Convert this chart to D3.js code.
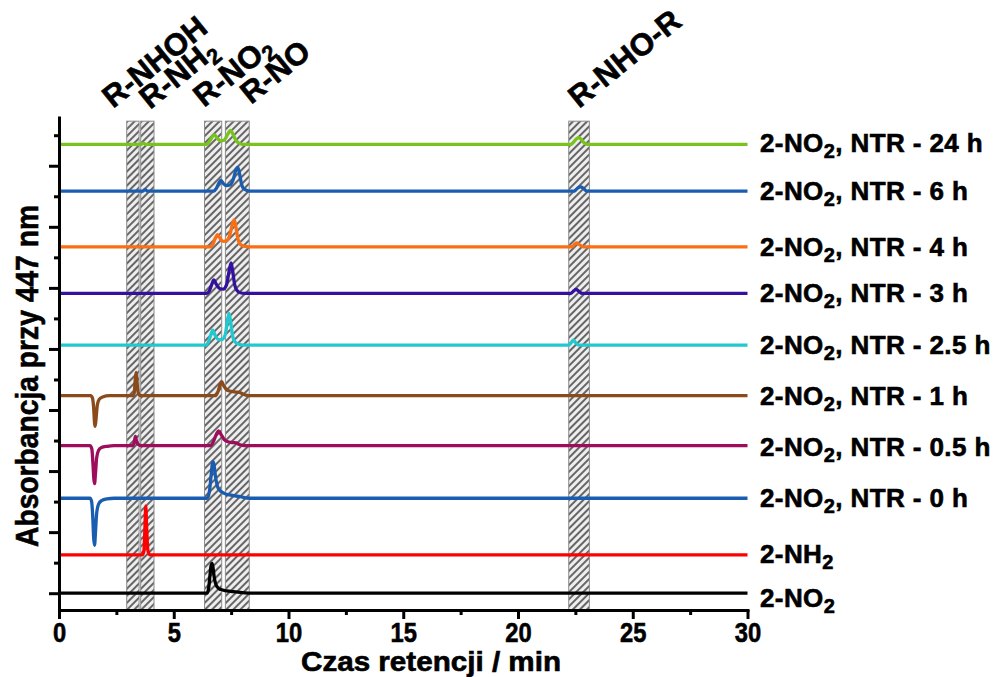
<!DOCTYPE html>
<html><head><meta charset="utf-8">
<script src="https://cdn.jsdelivr.net/npm/d3@7"></script>
<style>
body{margin:0;background:#fff}
text{font-family:"Liberation Sans",Arial,sans-serif;font-weight:bold;fill:#000;stroke:#000;stroke-width:0.6px}
</style>
</head><body>
<svg id="chart" width="994" height="677"></svg>
<script>
// ---------------- DATA ----------------
// series, bottom to top
const seriesLabels = [
  ["2-NO","2",""],
  ["2-NH","2",""],
  ["2-NO","2",", NTR - 0 h"],
  ["2-NO","2",", NTR - 0.5 h"],
  ["2-NO","2",", NTR - 1 h"],
  ["2-NO","2",", NTR - 2.5 h"],
  ["2-NO","2",", NTR - 3 h"],
  ["2-NO","2",", NTR - 4 h"],
  ["2-NO","2",", NTR - 6 h"],
  ["2-NO","2",", NTR - 24 h"]
];
const seriesColors = ["#000000","#ff0000","#1a5db0","#9e0c5c","#8a4a1a","#22c8d0","#34109f","#fb6e12","#1a5db0","#78c31e"];
// vertical offset of each trace (absorbance, arbitrary units)
const seriesOffsets = [0, 0.627, 1.555, 2.416, 3.234, 4.064, 4.91, 5.673, 6.584, 7.349];

// [retention time (min), signal relative to baseline]
const s_2NO2 = [[0,0],[6.45,0],[6.52,0.08],[6.58,0.3],[6.63,0.46],[6.67,0.49],[6.71,0.42],[6.76,0.27],[6.82,0.16],[6.9,0.1],[7.05,0.06],[7.3,0.04],[7.6,0.025],[8.0,0.01],[8.4,0],[30,0]];
const s_2NH2 = [[0,0],[3.62,0],[3.7,0.06],[3.74,0.4],[3.78,0.8],[3.82,0.45],[3.87,0.08],[3.95,0],[30,0]];
const s_0h = [[0,0],[1.35,0],[1.42,-0.05],[1.47,-0.3],[1.51,-0.65],[1.55,-0.77],[1.59,-0.55],[1.64,-0.25],[1.72,-0.1],[1.85,-0.04],[2.1,-0.01],[2.4,0],[6.45,0],[6.55,0.1],[6.63,0.38],[6.7,0.6],[6.75,0.56],[6.82,0.35],[6.9,0.2],[7.0,0.13],[7.2,0.08],[7.5,0.05],[7.9,0.025],[8.3,0],[30,0]];
const s_05h = [[0,0],[1.35,0],[1.43,-0.05],[1.48,-0.3],[1.52,-0.55],[1.55,-0.62],[1.59,-0.45],[1.64,-0.2],[1.72,-0.08],[1.85,-0.03],[2.1,-0.01],[2.4,0],[3.22,0],[3.28,0.06],[3.33,0.15],[3.38,0.07],[3.45,0.02],[3.6,0],[6.6,0],[6.72,0.06],[6.85,0.18],[6.95,0.24],[7.05,0.19],[7.2,0.1],[7.4,0.06],[7.6,0.05],[7.72,0.045],[7.85,0.02],[8.1,0],[30,0]];
const s_1h = [[0,0],[1.38,0],[1.46,-0.04],[1.51,-0.2],[1.55,-0.45],[1.58,-0.5],[1.62,-0.35],[1.67,-0.15],[1.75,-0.06],[1.9,-0.02],[2.2,0],[3.22,0],[3.28,0.05],[3.32,0.25],[3.36,0.38],[3.4,0.22],[3.45,0.05],[3.55,0],[6.8,0],[6.92,0.06],[7.02,0.18],[7.09,0.23],[7.17,0.17],[7.3,0.1],[7.5,0.07],[7.7,0.06],[7.86,0.055],[8.05,0.02],[8.3,0],[30,0]];
const s_25h = [[0,0],[6.4,0],[6.5,0.04],[6.6,0.15],[6.7,0.245],[6.8,0.16],[6.95,0.09],[7.1,0.09],[7.25,0.18],[7.34,0.4],[7.41,0.52],[7.48,0.38],[7.56,0.16],[7.65,0.06],[7.8,0.02],[8.0,0],[22.2,0],[22.32,0.04],[22.41,0.08],[22.52,0.035],[22.65,0],[30,0]];
const s_3h = [[0,0],[6.45,0],[6.55,0.04],[6.65,0.14],[6.75,0.22],[6.85,0.15],[7.0,0.08],[7.15,0.07],[7.3,0.14],[7.42,0.38],[7.5,0.5],[7.57,0.36],[7.65,0.15],[7.75,0.05],[7.9,0.01],[8.1,0],[22.3,0],[22.43,0.04],[22.53,0.065],[22.63,0.04],[22.8,0],[30,0]];
const s_4h = [[0,0],[6.6,0],[6.7,0.04],[6.8,0.13],[6.91,0.2],[7.0,0.15],[7.15,0.09],[7.3,0.1],[7.45,0.2],[7.56,0.38],[7.64,0.44],[7.72,0.3],[7.8,0.12],[7.9,0.04],[8.05,0.01],[8.3,0],[22.35,0],[22.47,0.04],[22.56,0.065],[22.66,0.04],[22.85,0],[30,0]];
const s_6h = [[0,0],[3.65,0],[3.75,0.03],[3.85,0],[6.75,0],[6.85,0.04],[6.95,0.12],[7.05,0.175],[7.15,0.13],[7.3,0.09],[7.45,0.1],[7.6,0.2],[7.71,0.35],[7.79,0.39],[7.87,0.28],[7.95,0.12],[8.05,0.04],[8.2,0.01],[8.4,0],[22.45,0],[22.6,0.05],[22.73,0.07],[22.85,0.045],[23.0,0],[30,0]];
const s_24h = [[0,0],[3.55,0],[3.68,0.02],[3.8,0],[6.4,0],[6.5,0.02],[6.62,0.09],[6.77,0.16],[6.9,0.1],[7.05,0.06],[7.2,0.07],[7.35,0.17],[7.48,0.23],[7.6,0.15],[7.72,0.06],[7.85,0.02],[8.0,0],[22.3,0],[22.45,0.05],[22.57,0.1],[22.66,0.11],[22.76,0.08],[22.9,0.02],[23.05,0],[30,0]];
const seriesData = [s_2NO2, s_2NH2, s_0h, s_05h, s_1h, s_25h, s_3h, s_4h, s_6h, s_24h];

// hatched retention windows (min)
const regions = [[2.95,3.49],[3.56,4.14],[6.34,7.09],[7.25,8.29],[22.21,23.11]];
const regionLabels = [["R-NHOH","",""],["R-NH","2",""],["R-NO","2",""],["R-NO","",""],["R-NHO-R","",""]];

const xMajorTicks = [0,5,10,15,20,25,30];
const xMinorTicks = [2.5,7.5,12.5,17.5,22.5,27.5];
const yMajorTicks = [0,1,2,3,4,5,6,7];
const yMinorTicks = [0.5,1.5,2.5,3.5,4.5,5.5,6.5,7.5];
const xTitle = "Czas retencji / min";
const yTitle = "Absorbancja przy 447 nm";

// ---------------- LAYOUT ----------------
const svg = d3.select("#chart");
const axisY = 610, axisTop = 117.5, left = 59, right = 747.5;
const x = d3.scaleLinear().domain([0,30]).range([left,right]);
const y = d3.scaleLinear().domain([-0.275,7.79]).range([axisY,axisTop]);
const hatchTop = 7.73;

// hatch pattern
const defs = svg.append("defs");
const pat = defs.append("pattern").attr("id","hatch").attr("patternUnits","userSpaceOnUse")
  .attr("width",5).attr("height",5).attr("patternTransform","rotate(45)");
pat.append("rect").attr("width",5).attr("height",5).attr("fill","#eeeeee");
pat.append("line").attr("x1",1).attr("x2",1).attr("y1",0).attr("y2",5)
  .attr("stroke","#5f5f5f").attr("stroke-width",1.9);

svg.append("g").selectAll("rect").data(regions).join("rect")
  .attr("x",d=>x(d[0])).attr("width",d=>x(d[1])-x(d[0]))
  .attr("y",y(hatchTop)).attr("height",axisY-y(hatchTop))
  .attr("fill","url(#hatch)").attr("stroke","#8c8c8c").attr("stroke-width",1);

// traces
const line = d3.line().x(d=>x(d[0])).curve(d3.curveMonotoneX);
svg.append("g").selectAll("path").data(seriesData).join("path")
  .attr("d",(d,i)=>line.y(p=>y(p[1]+seriesOffsets[i]))(d))
  .attr("fill","none").attr("stroke",(d,i)=>seriesColors[i])
  .attr("stroke-width",3.3).attr("stroke-linejoin","round");

// axes
function styleAxis(g){
  g.selectAll(".domain").attr("stroke","#000").attr("stroke-width",3).attr("stroke-linecap","square");
  g.selectAll(".tick line").attr("stroke","#000").attr("stroke-width",3);
}
const gx = svg.append("g").attr("transform",`translate(0,${axisY})`)
  .call(d3.axisBottom(x).tickValues(xMajorTicks).tickSize(9).tickSizeOuter(0).tickFormat(d3.format("d")));
styleAxis(gx);
gx.selectAll(".tick text").attr("y",31.5).attr("dy",0).attr("font-size",27)
  .attr("font-family",'"Liberation Sans",Arial,sans-serif').attr("font-weight","bold").attr("fill","#000")
  .each(function(d){ d3.select(this).attr("textLength",String(d).length*13.2).attr("lengthAdjust","spacingAndGlyphs"); });
const gxm = svg.append("g").attr("transform",`translate(0,${axisY})`)
  .call(d3.axisBottom(x).tickValues(xMinorTicks).tickSize(5).tickSizeOuter(0).tickFormat(""));
styleAxis(gxm); gxm.select(".domain").remove();

const gy = svg.append("g").attr("transform",`translate(${left},0)`)
  .call(d3.axisLeft(y).tickValues(yMajorTicks).tickSize(10).tickSizeOuter(0).tickFormat(""));
styleAxis(gy);
const gym = svg.append("g").attr("transform",`translate(${left},0)`)
  .call(d3.axisLeft(y).tickValues(yMinorTicks).tickSize(5).tickSizeOuter(0).tickFormat(""));
styleAxis(gym); gym.select(".domain").remove();

// axis titles
svg.append("text").attr("x",431).attr("y",670.5).attr("text-anchor","middle")
  .attr("font-size",27).attr("textLength",260).attr("lengthAdjust","spacingAndGlyphs").text(xTitle);
svg.append("text").attr("transform","translate(38,376) rotate(-90)").attr("text-anchor","middle")
  .attr("font-size",32).attr("textLength",342).attr("lengthAdjust","spacingAndGlyphs").text(yTitle);

// helper for labels with subscript
function addParts(t, parts, subSize, shift){
  t.append("tspan").text(parts[0]);
  if(parts[1]) t.append("tspan").attr("font-size",subSize).attr("dy",shift).text(parts[1]);
  if(parts[2]) t.append("tspan").attr("dy",parts[1]?-shift:0).text(parts[2]);
}

// right-hand series labels
const labelDy = [14,8.5,8.5,10,9.3,9,9,9,8.5,7.5];
seriesLabels.forEach((parts,i)=>{
  const t = svg.append("text").attr("x",760).attr("y",y(seriesOffsets[i])+labelDy[i])
    .attr("font-size",26).attr("letter-spacing",0.4);
  addParts(t, parts, 20, 6);
});

// top labels of hatched windows
const topAnchors = [[113,109],[150,110],[204,108],[251,105],[579,109]];
regionLabels.forEach((parts,i)=>{
  const t = svg.append("text").attr("transform",`translate(${topAnchors[i][0]},${topAnchors[i][1]}) rotate(-39)`)
    .attr("font-size",31);
  addParts(t, parts, 22, 6);
});
</script>
</body></html>
